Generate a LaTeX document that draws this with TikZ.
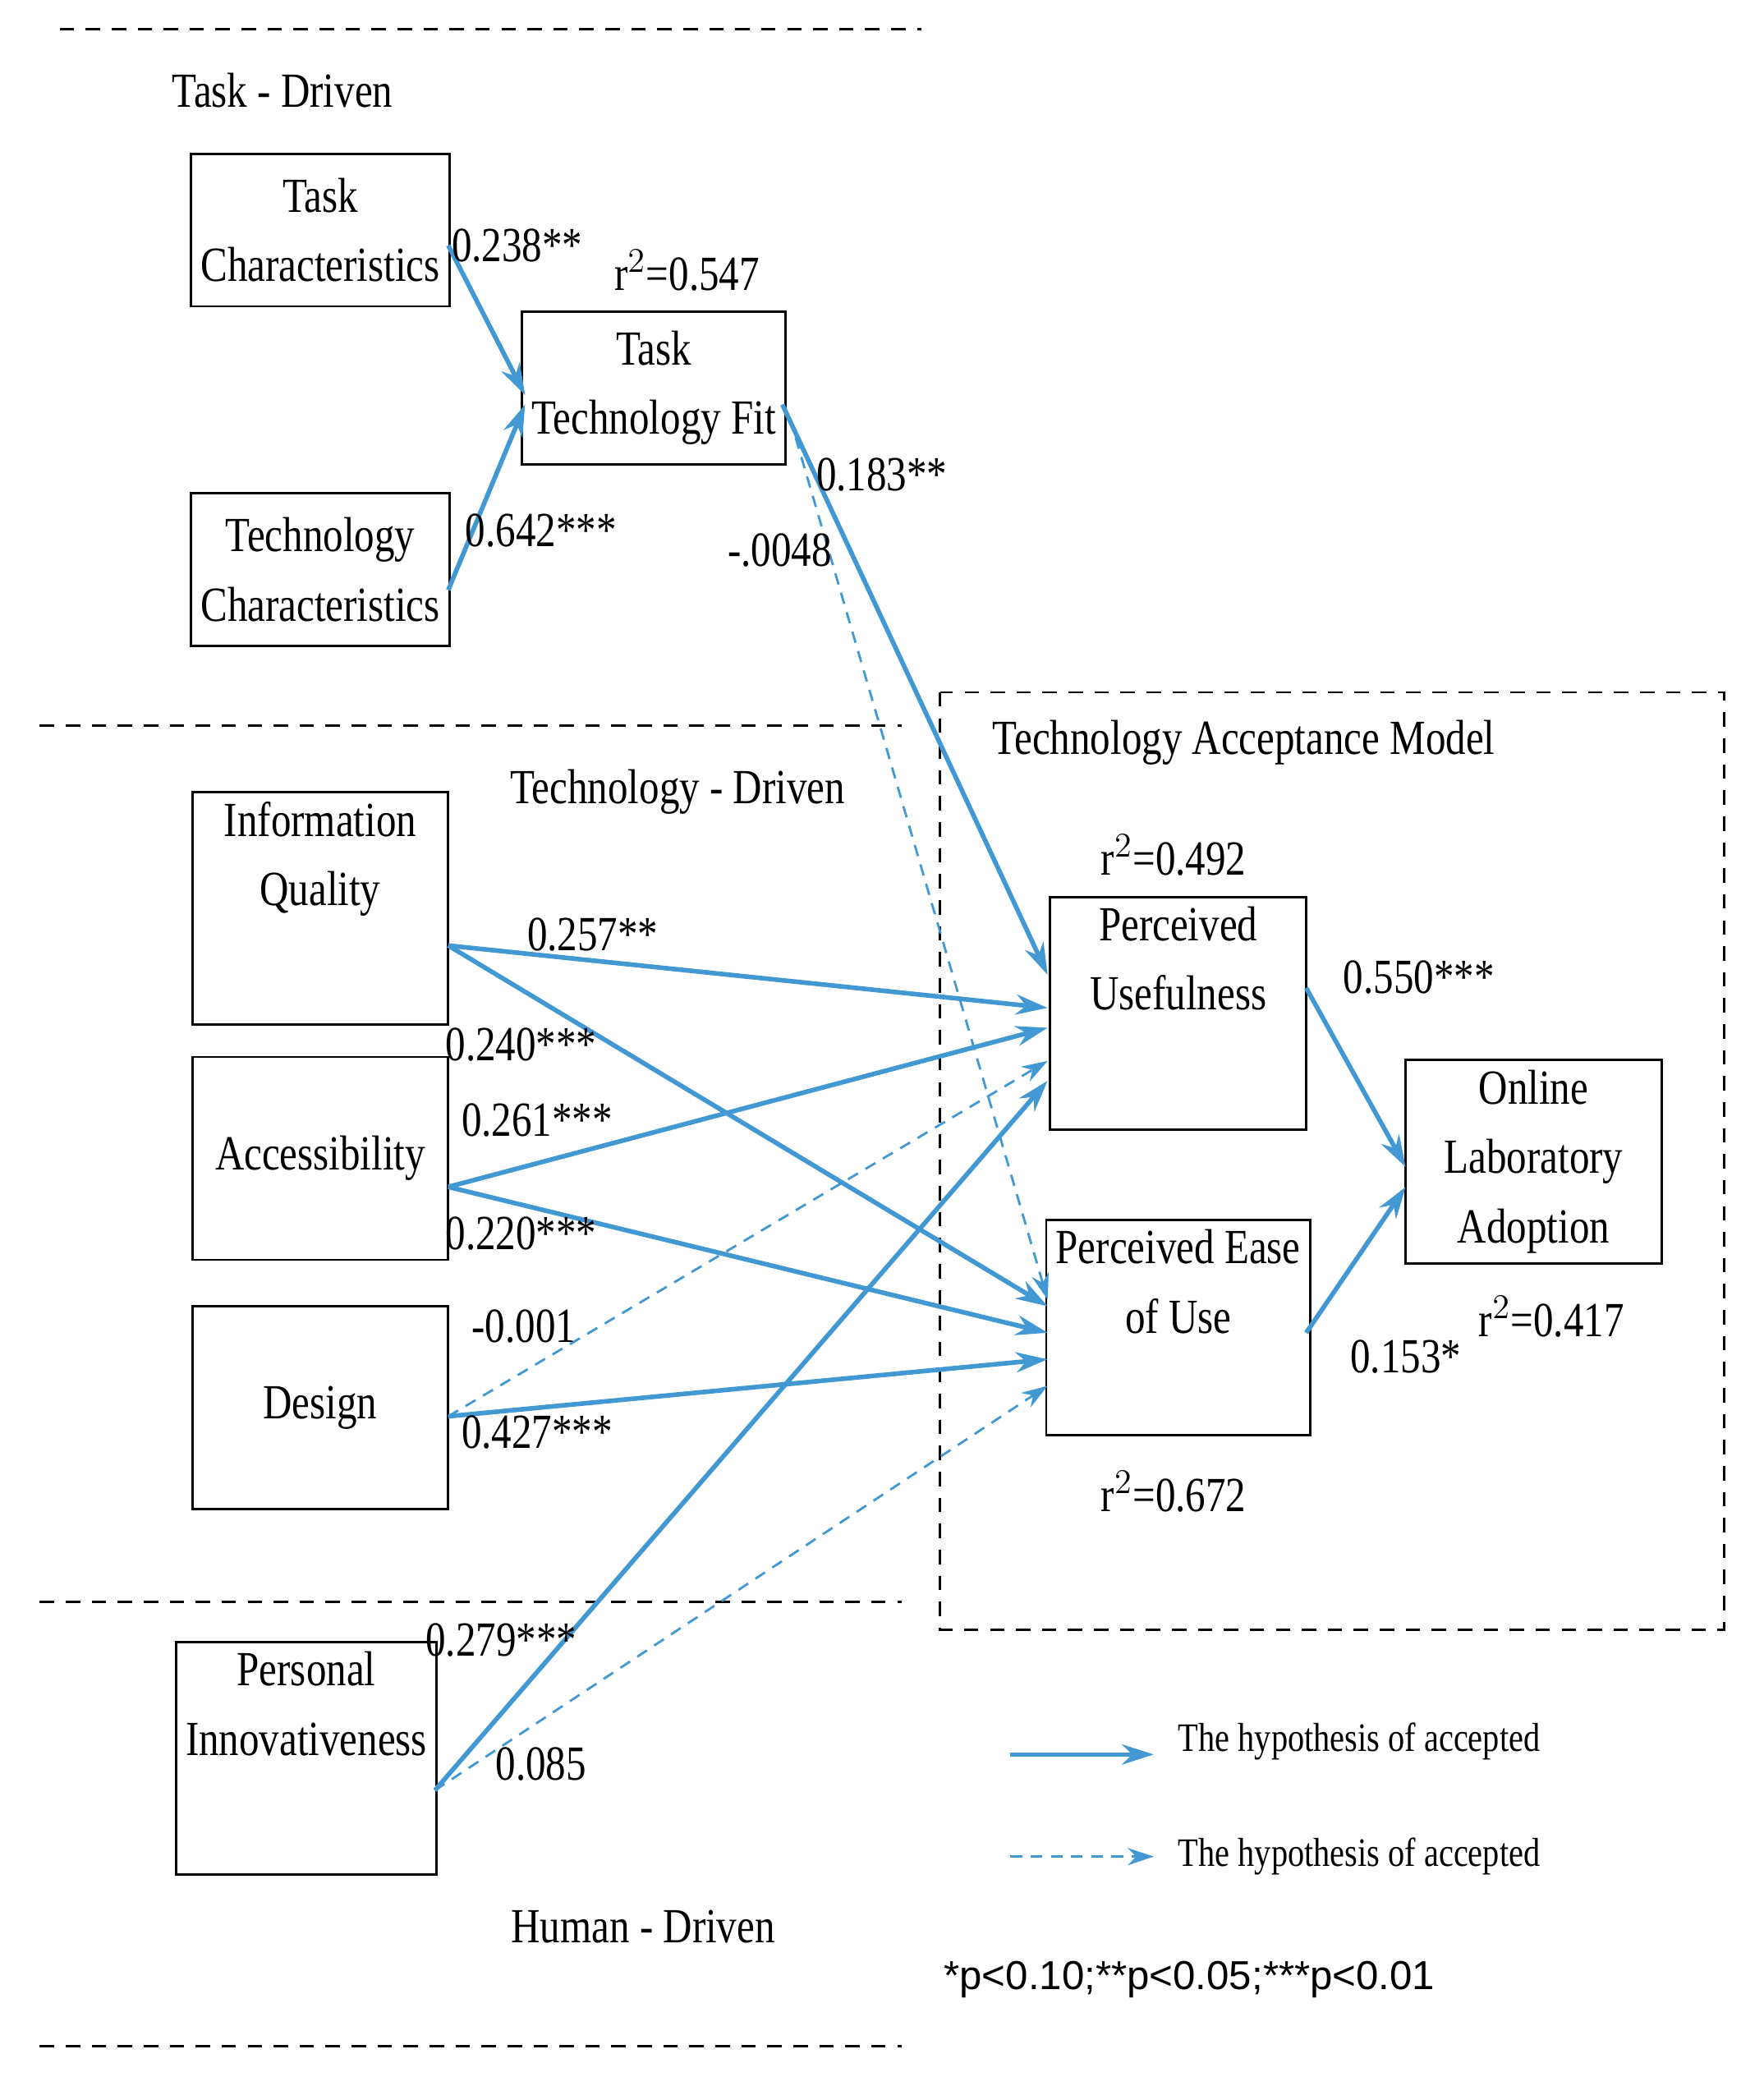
\documentclass[tikz,border=0pt]{standalone}
\usepackage{fontspec}
\setmainfont{Liberation Serif}[FakeStretch=0.82]
\newfontfamily\sansf{Liberation Sans}
\usetikzlibrary{arrows.meta}
\definecolor{ab}{RGB}{66,152,210}
\begin{document}
\begin{tikzpicture}[x=0.01614cm,y=-0.01614cm,
  box/.style={draw,thick,minimum width=193*0.01614cm,align=center,font=\fontsize{17}{24}\selectfont},
  lbl/.style={font=\fontsize{17}{20}\selectfont},
  sol/.style={draw=ab,line width=1.6pt,-{Stealth[length=11pt,width=7pt]}},
  das/.style={draw=ab,line width=0.8pt,dash pattern=on 4pt off 3pt,-{Stealth[length=9pt,width=6pt]}},
  sep/.style={thick,dash pattern=on 5pt off 4pt}]
\useasboundingbox (0,0) rectangle (1330,1573);
\draw[sep] (45,22) -- (695,22);
\draw[sep] (30,547) -- (680,547);
\draw[sep] (30,1208) -- (680,1208);
\draw[sep] (30,1543) -- (680,1543);
\draw[sep] (709,522) rectangle (1300,1229);
\node[lbl] (tdl) at (213,68) {Task - Driven};
\node[lbl] (tecd) at (511,597) {Technology - Driven};
\node[lbl] (hd) at (485,1453) {Human - Driven};
\node[lbl] (taml) at (938,560) {Technology Acceptance Model};
\node[box,minimum height=115*0.01614cm] (tc) at (241.5,173.5) {Task\\Characteristics};
\node[box,minimum height=115*0.01614cm] (tec) at (241.5,429.5) {Technology\\Characteristics};
\node[box,minimum height=115*0.01614cm] (ttf) at (493,292.5) {Task\\Technology Fit};
\node[box,minimum height=154*0.01614cm] (iq) at (241.5,685) {Information\\Quality\\[14pt]};
\node[box,minimum height=153*0.01614cm] (acc) at (241.5,873.5) {Accessibility};
\node[box,minimum height=153*0.01614cm] (des) at (241.5,1061.5) {Design};
\node[box,minimum height=154*0.01614cm] (pi) at (231,1326) {Personal\\Innovativeness\\[14pt]};
\node[box,minimum height=154*0.01614cm] (pu) at (888.5,764) {Perceived\\Usefulness\\[14pt]};
\node[box,minimum height=154*0.01614cm] (pe) at (888.5,1001) {Perceived Ease\\of Use\\[8pt]};
\node[box,minimum height=154*0.01614cm] (ola) at (1156.5,876) {Online\\Laboratory\\Adoption};
\node[lbl] (r1) at (518,204) {r$^2$=0.547};
\node[lbl] (r2) at (885,645) {r$^2$=0.492};
\node[lbl] (r3) at (885,1125) {r$^2$=0.672};
\node[lbl] (r4) at (1170,993) {r$^2$=0.417};
\coordinate (tcE) at (338,185); \coordinate (tecE) at (338,445);
\coordinate (ttfA) at (396,298); \coordinate (ttfB) at (396,305);
\coordinate (ttfE) at (590,305); \coordinate (ttfF) at (600,330);
\coordinate (iqE) at (338,713); \coordinate (accE) at (338,895);
\coordinate (desE) at (338,1068); \coordinate (piE) at (328,1350);
\coordinate (pu1) at (790,735); \coordinate (pu2) at (790,760); \coordinate (pu3) at (790,775);
\coordinate (pu4) at (790,800); \coordinate (pu5) at (790,815);
\coordinate (pe1) at (790,980); \coordinate (pe2) at (790,985); \coordinate (pe3) at (790,1005);
\coordinate (pe4) at (790,1025); \coordinate (pe5) at (790,1045);
\coordinate (puE) at (985,745); \coordinate (peE) at (985,1005);
\coordinate (ola1) at (1060,880); \coordinate (ola2) at (1060,895);
\draw[sol] (tcE) -- (ttfA);
\draw[sol] (tecE) -- (ttfB);
\draw[sol] (ttfE) -- (pu1);
\draw[das] (ttfF) -- (pe1);
\draw[sol] (iqE) -- (pu2);
\draw[sol] (iqE) -- (pe2);
\draw[sol] (accE) -- (pu3);
\draw[sol] (accE) -- (pe3);
\draw[das] (desE) -- (pu4);
\draw[sol] (desE) -- (pe4);
\draw[sol] (piE) -- (pu5);
\draw[das] (piE) -- (pe5);
\draw[sol] (puE) -- (ola1);
\draw[sol] (peE) -- (ola2);
\node[lbl] at (390,185) {0.238**};
\node[lbl] at (408,400) {0.642***};
\node[lbl] at (665,358) {0.183**};
\node[lbl] at (588,415) {-.0048};
\node[lbl] at (447,705) {0.257**};
\node[lbl] at (393,788) {0.240***};
\node[lbl] at (405,845) {0.261***};
\node[lbl] at (393,930) {0.220***};
\node[lbl] at (395,1000) {-0.001};
\node[lbl] at (405,1080) {0.427***};
\node[lbl] at (378,1237) {0.279***};
\node[lbl] at (408,1330) {0.085};
\node[lbl] at (1070,737) {0.550***};
\node[lbl] at (1060,1023) {0.153*};
\coordinate (l1a) at (762,1323); \coordinate (l1b) at (870,1323);
\coordinate (l2a) at (762,1400); \coordinate (l2b) at (870,1400);
\draw[sol] (l1a) -- (l1b);
\draw[das] (l2a) -- (l2b);
\node[lbl,font=\fontsize{14}{16}\selectfont] (t1) at (1025,1313) {The hypothesis of accepted};
\node[lbl,font=\fontsize{14}{16}\selectfont] (t2) at (1025,1400) {The hypothesis of accepted};
\node[font=\sansf\fontsize{14}{16}\selectfont] (pv) at (897,1493) {*p<0.10;**p<0.05;***p<0.01};
\end{tikzpicture}
\end{document}
